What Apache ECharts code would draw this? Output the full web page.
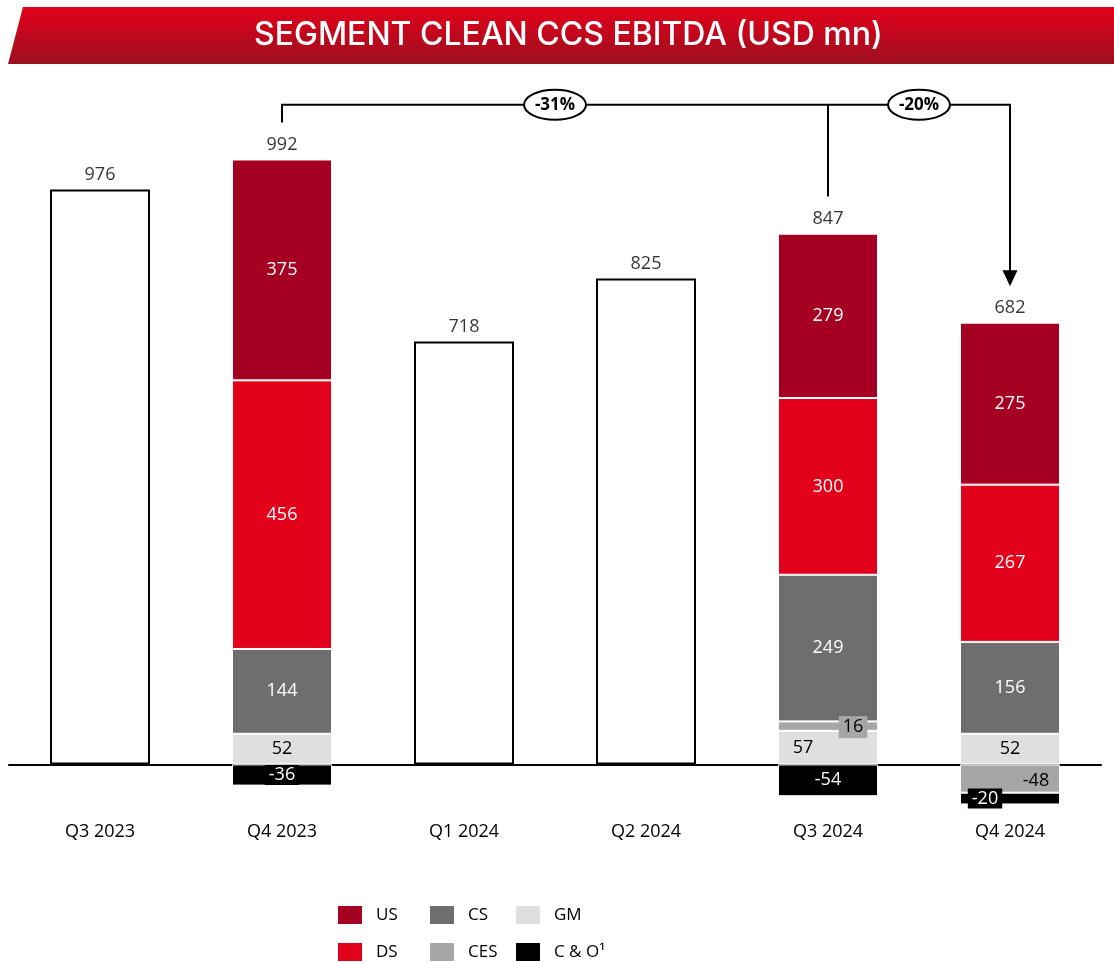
<!DOCTYPE html>
<html>
<head>
<meta charset="utf-8">
<script src="https://cdn.jsdelivr.net/npm/echarts@6/dist/echarts.min.js"></script>
<style>
html,body{margin:0;padding:0;background:#fff;}
#chart{width:1114px;height:962px;}
</style>
</head>
<body>
<div id="chart"></div>
<script>
// ---- data ----
const categories = ['Q3 2023', 'Q4 2023', 'Q1 2024', 'Q2 2024', 'Q3 2024', 'Q4 2024'];
const totals = [976, 992, 718, 825, 847, 682];
const US  = [null, 375, null, null, 279, 275];
const DS  = [null, 456, null, null, 300, 267];
const CS  = [null, 144, null, null, 249, 156];
const CES = [null, null, null, null, 16, -48];
const GM  = [null, 52, null, null, 57, 52];
const CO  = [null, -36, null, null, -54, -20];
const changes = [{from: 1, to: 4, text: '-31%'}, {from: 4, to: 5, text: '-20%'}];
const legendGrid = [['US', 'CS', 'GM'], ['DS', 'CES', 'C & O¹']];

const FONT = '"Open Sans", "Noto Sans", sans-serif';
const hasBreakdown = categories.map((c, i) => [US, DS, CS, CES, GM, CO].some(a => a[i] != null));
const whiteBars = totals.map((v, i) => hasBreakdown[i] ? null : v);
const posTop = categories.map((c, i) => {
  if (!hasBreakdown[i]) return totals[i];
  return [US, DS, CS, CES, GM, CO].reduce((s, a) => s + (a[i] > 0 ? a[i] : 0), 0);
});

function seg(name, arr, color, labelColor, overrides) {
  return {
    name: name, type: 'bar', stack: 'a', barWidth: 100,
    itemStyle: {color: color, borderColor: '#fff', borderWidth: 1},
    label: {show: true, position: 'inside', color: labelColor, fontFamily: FONT, fontSize: 18},
    data: arr.map((v, i) => {
      if (v == null) return '-';
      const o = {value: v};
      if (overrides && overrides[i]) o.label = overrides[i];
      return o;
    })
  };
}

const colLeft = [336, 428, 514], rowTop = [904, 941];
const legends = [];
legendGrid.forEach((row, r) => row.forEach((name, c) => legends.push({
  data: [name], left: colLeft[c], top: rowTop[r], padding: 0,
  itemWidth: 26, itemHeight: 20, icon: 'rect',
  textStyle: {color: '#000', fontFamily: FONT, fontSize: 17, padding: [0, 0, 0, 8]}
})));

const chart = echarts.init(document.getElementById('chart'));
const option = {
  animation: false,
  backgroundColor: '#fff',
  grid: {left: 9, right: 13, top: 116.5, height: 706.8},
  xAxis: {
    type: 'category', data: categories,
    axisLine: {onZero: true, lineStyle: {color: '#000', width: 2}},
    axisTick: {show: false},
    axisLabel: {margin: 0, color: '#000', fontFamily: FONT, fontSize: 18}
  },
  yAxis: {type: 'value', min: -100, max: 1100, show: false, splitLine: {show: false}},
  legend: legends,
  series: [
    seg('GM', GM, '#DFDFDF', '#000', {4: {offset: [-25, 0]}}),
    seg('CES', CES, '#A6A6A6', '#000', {
      4: {offset: [25, 1], backgroundColor: '#A6A6A6', padding: [2, 4]},
      5: {offset: [26, 2]}
    }),
    seg('CS', CS, '#6E6E6E', '#fff'),
    seg('DS', DS, '#E2001A', '#fff'),
    seg('US', US, '#A50021', '#fff'),
    seg('C & O¹', CO, '#000000', '#fff', {
      1: {backgroundColor: '#000', padding: [1, 4]},
      5: {offset: [-25, 0], backgroundColor: '#000', padding: [1, 4]}
    }),
    {
      name: 'Total', type: 'bar', stack: 'a', barWidth: 100,
      itemStyle: {color: '#fff', borderColor: '#000', borderWidth: 2},
      data: whiteBars.map(v => v == null ? '-' : v)
    },
    {
      name: 'TotalLabel', type: 'scatter', symbolSize: 0,
      label: {show: true, position: 'top', distance: 6, color: '#000', fontFamily: FONT, fontSize: 18,
        formatter: p => String(totals[p.dataIndex])},
      data: posTop.map((v, i) => [i, v])
    }
  ],
  graphic: [
    {
      type: 'polygon', z: 1,
      shape: {points: [[23, 7], [1114, 7], [1114, 64], [8, 64]]},
      style: {fill: {type: 'linear', x: 0, y: 0, x2: 0, y2: 1,
        colorStops: [{offset: 0, color: '#E2001A'}, {offset: 1, color: '#9C1020'}]}}
    },
    {
      type: 'text', left: 254, top: 19, z: 2,
      style: {text: 'SEGMENT CLEAN CCS EBITDA (USD mn)', fill: '#fff', font: '500 32px Inter, "Noto Sans", sans-serif'}
    }
  ]
};
chart.setOption(option);

// annotations (bracket + arrow), positioned via the chart's own scales
const P = (i, v) => chart.convertToPixel({gridIndex: 0}, [i, v]);
const bracketV = 1120;
const g = [];
const stroke = {stroke: '#000', lineWidth: 2, fill: null};
const first = changes[0].from, last = changes[changes.length - 1].to;
const yTop = P(0, bracketV)[1];
g.push({type: 'polyline', z: 10, shape: {points: [P(first, 1090), [P(first, 0)[0], yTop], [P(last, 0)[0], yTop], P(last, 830)]}, style: stroke});
g.push({type: 'line', z: 10, shape: {x1: P(4, 0)[0], y1: yTop, x2: P(4, 0)[0], y2: P(4, 964)[1]}, style: stroke});
const tip = P(last, 812);
g.push({type: 'polygon', z: 10, shape: {points: [[tip[0] - 7.5, tip[1] - 16], [tip[0] + 7.5, tip[1] - 16], tip]}, style: {fill: '#000'}});
changes.forEach(c => {
  const cx = (P(c.from, 0)[0] + P(c.to, 0)[0]) / 2;
  g.push({type: 'ellipse', z: 11, shape: {cx: cx, cy: yTop, rx: 31, ry: 15}, style: {fill: '#fff', stroke: '#000', lineWidth: 2}});
  g.push({type: 'text', z: 12, x: cx, y: yTop, style: {text: c.text, fill: '#000', align: 'center', verticalAlign: 'middle',
    font: 'bold 17px "Open Sans", "Noto Sans", sans-serif'}});
});
chart.setOption({graphic: option.graphic.concat(g)});
</script>
</body>
</html>
